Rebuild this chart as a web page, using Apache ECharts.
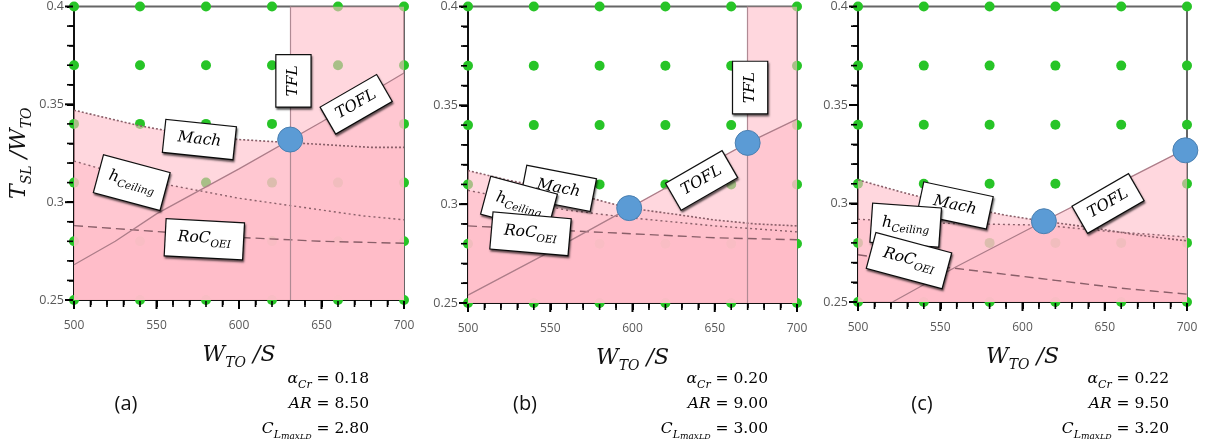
<!DOCTYPE html>
<html><head><meta charset="utf-8">
<script src="https://cdn.jsdelivr.net/npm/echarts@6/dist/echarts.min.js"></script>
<style>html,body{margin:0;padding:0;background:#fff}#c{width:1210px;height:440px;background:#fff}</style>
</head><body><div id="c"></div>
<script>
// ---- data ----
const gridX = [500, 540, 580, 620, 660, 700];
const gridY = [0.25, 0.28, 0.31, 0.34, 0.37, 0.40];

const xMajorTicks = [500, 550, 600, 650, 700];
const xMinorTicks = [510,520,530,540,560,570,580,590,610,620,630,640,660,670,680,690];
const yMajorTicks = [0.25, 0.30, 0.35, 0.40];
const yMinorTicks = [0.26,0.27,0.28,0.29,0.31,0.32,0.33,0.34,0.36,0.37,0.38,0.39];

const machA = [[500,0.347],[520,0.343],[540,0.339],[560,0.336],[580,0.334],[600,0.332],[620,0.331],[640,0.330],[660,0.329],[680,0.328],[700,0.328]];
const ceilA = [[500,0.321],[525,0.315],[550,0.310],[575,0.306],[600,0.302],[625,0.299],[650,0.296],[675,0.293],[700,0.291]];
const rocA  = [[500,0.288],[550,0.285],[600,0.282],[650,0.280],[700,0.279]];
const tofA  = [[500,0.268],[525,0.280],[550,0.294],[600,0.317],[650,0.341],[700,0.366]];
const tflA  = 631;
const optA  = [[631,0.332]];

const machB = [[500,0.317],[525,0.312],[550,0.308],[575,0.303],[598,0.298],[625,0.295],[650,0.292],[675,0.290],[700,0.289]];
const ceilB = [[500,0.307],[530,0.302],[560,0.297],[600,0.293],[650,0.289],[700,0.286]];
const rocB  = [[500,0.289],[550,0.287],[600,0.285],[650,0.283],[700,0.282]];
const tofB  = [[500,0.254],[550,0.276],[598,0.298],[635,0.315],[670,0.331],[700,0.343]];
const tflB  = 670;
const optB  = [[598,0.298],[670,0.331]];

const machC = [[500,0.312],[530,0.305],[560,0.299],[590,0.294],[613,0.291],[640,0.288],[670,0.284],[700,0.281]];
const ceilC = [[500,0.292],[550,0.290],[613,0.289],[650,0.286],[700,0.283]];
const rocC  = [[500,0.274],[540,0.269],[580,0.265],[620,0.261],[660,0.257],[700,0.254]];
const tofC  = [[521,0.250],[560,0.268],[613,0.291],[660,0.311],[700,0.328]];
const optC  = [[613,0.291],[699,0.327]];

const panelTags = ['(a)', '(b)', '(c)'];
const alphaCr = ['0.18', '0.20', '0.22'];
const aspectR = ['8.50', '9.00', '9.50'];
const clmaxLD = ['2.80', '3.00', '3.20'];

// annotation anchors (data space): [x, y]
const labA = {roc:[579,0.281], ceil:[535,0.310], mach:[576,0.332], tofl:[671,0.350], tfl:[633,0.362]};
const labB = {roc:[538,0.285], ceil:[531,0.300], mach:[555,0.308], tofl:[642,0.312], tfl:[671.5,0.359]};
const labC = {roc:[531,0.271], ceil:[529,0.289], mach:[559,0.299], tofl:[652,0.300]};

// ---- styling / building ----
const PINK = 'rgba(255,188,200,0.6)';
const SERIF = 'DejaVu Serif';
const grids = [
  {left:74, top:3, width:330, height:297},
  {left:468, top:5, width:329, height:298},
  {left:858, top:4, width:329, height:298}
];
const richLab = {
  m:{fontFamily:SERIF, fontStyle:'italic', fontSize:15.5, color:'#000', lineHeight:22},
  s:{fontFamily:SERIF, fontStyle:'italic', fontSize:10.5, color:'#000', lineHeight:10, verticalAlign:'bottom'}
};
const TXT = {
  mach:'{m|Mach}', tofl:'{m|TOFL}', tfl:'{m|TFL}',
  ceil:'{m|h}{s|Ceiling}', roc:'{m|RoC}{s|OEI}'
};
const ROT = [
  {roc:-3, ceil:-15, mach:-6, tofl:30, tfl:90},
  {roc:-5, ceil:-15, mach:-11, tofl:30, tfl:90},
  {roc:-15, ceil:-4, mach:-12, tofl:30}
];
const PAD = {mach:[5,13], tofl:[4,10], tfl:[6,10], ceil:[7,10,9,10], roc:[6,12,8,12]};

function constraint(gi, data, lineStyle){
  return {type:'line', xAxisIndex:gi, yAxisIndex:gi, data, showSymbol:false, symbol:'none',
    lineStyle, areaStyle:{color:PINK, origin:'start', opacity:1}, silent:true, animation:false};
}
const dotData = [];
gridX.forEach(x => gridY.forEach(y => dotData.push([x, y])));

function tickSeries(gi, data, size, offset){
  return {type:'scatter', xAxisIndex:gi, yAxisIndex:gi, data, symbol:'rect', symbolSize:size, symbolOffset:offset,
    clip:false, z:10, silent:true, animation:false, itemStyle:{color:'#000', opacity:1}};
}

function panelSeries(gi, mach, ceil, roc, tof, tfl, opt, lab){
  const s = [];
  s.push({type:'scatter', xAxisIndex:gi, yAxisIndex:gi, data:dotData, symbolSize:10, clip:true,
    itemStyle:{color:'#27c427', opacity:1}, silent:true, animation:false});
  s.push(constraint(gi, mach, {color:'#8a5f69', width:1.6, type:[2,2]}));
  s.push(constraint(gi, ceil, {color:'#8a5f69', width:1.4, type:[2,3]}));
  s.push(constraint(gi, roc,  {color:'#8a5f69', width:1.4, type:[9,5]}));
  if (tfl !== null) {
    s.push({type:'line', xAxisIndex:gi, yAxisIndex:gi, data:[[tfl,0.4],[700,0.4]], showSymbol:false, symbol:'none',
      lineStyle:{width:0}, areaStyle:{color:PINK, origin:'start', opacity:1}, silent:true, animation:false,
      markLine:{silent:true, symbol:'none', label:{show:false}, animation:false,
        lineStyle:{color:'#b08a94', width:1.2, type:'solid'}, data:[{xAxis:tfl}]}});
  }
  s.push(constraint(gi, tof, {color:'#ad7d89', width:1.3, type:'solid'}));
  const keys = ['mach','ceil','roc','tofl','tfl'].filter(k => lab[k]);
  s.push({type:'scatter', xAxisIndex:gi, yAxisIndex:gi, symbolSize:1, itemStyle:{color:'transparent', opacity:1},
    silent:true, animation:false, z:5, clip:false,
    data: keys.map(k => ({value:lab[k], label:{rotate:ROT[gi][k], formatter:TXT[k], padding:PAD[k]}})),
    label:{show:true, opacity:1, position:'inside', backgroundColor:'#fff', borderColor:'#111', borderWidth:1.2,
      shadowColor:'rgba(0,0,0,0.5)', shadowBlur:2, shadowOffsetX:1, shadowOffsetY:2, rich:richLab}});
  s.push({type:'scatter', xAxisIndex:gi, yAxisIndex:gi, data:opt, symbolSize:25, clip:false, z:8,
    itemStyle:{color:'#5b9bd5', borderColor:'#4a7fb0', borderWidth:1, opacity:1}, silent:true, animation:false});
  // axis ticks (outward) placed at the axis values
  s.push(tickSeries(gi, xMajorTicks.map(v => [v, yMajorTicks[0]]), [2, 8], [0, 5]));
  s.push(tickSeries(gi, xMinorTicks.map(v => [v, yMajorTicks[0]]), [1.6, 6], [0, 4]));
  s.push(tickSeries(gi, yMajorTicks.map(v => [xMajorTicks[0], v]), [8, 2], [-5, 0]));
  s.push(tickSeries(gi, yMinorTicks.map(v => [xMajorTicks[0], v]), [6, 1.6], [-4, 0]));
  return s;
}

const nameRich = {
  i:{fontFamily:SERIF, fontStyle:'italic', fontSize:22, color:'#111', lineHeight:30},
  s:{fontFamily:SERIF, fontStyle:'italic', fontSize:14, color:'#111', lineHeight:14, verticalAlign:'bottom'}
};
function tickCfg(){ return {show:true, length:7, lineStyle:{color:'#000', width:2}}; }
function minorCfg(){ return {show:true, splitNumber:5, length:5, lineStyle:{color:'#000', width:1.5}}; }
const xAxes = grids.map((g, i) => ({
  type:'value', gridIndex:i, min:500, max:700, interval:50,
  name:'{i|W}{s|TO}{i| /S}', nameLocation:'middle', nameGap:40, nameTextStyle:{rich:nameRich},
  axisLine:{show:true, lineStyle:{color:'#111', width:2}},
  axisTick:tickCfg(), minorTick:minorCfg(),
  splitLine:{show:false},
  axisLabel:{color:'#595959', fontSize:12, fontFamily:'Open Sans', margin:20}
}));
const yAxes = grids.map((g, i) => ({
  type:'value', gridIndex:i, min:0.25, max:0.4, interval:0.05,
  name: i === 0 ? '{i|T}{s|SL}{i| /W}{s|TO}' : '', nameLocation:'middle', nameGap:40, nameRotate:90,
  nameTextStyle:{rich:nameRich},
  axisLine:{show:true, lineStyle:{color:'#111', width:2}},
  axisTick:tickCfg(), minorTick:minorCfg(),
  splitLine:{show:false},
  axisLabel:{color:'#595959', fontSize:12.5, fontFamily:'Open Sans', margin:10}
}));

const series = [].concat(
  panelSeries(0, machA, ceilA, rocA, tofA, tflA, optA, labA),
  panelSeries(1, machB, ceilB, rocB, tofB, tflB, optB, labB),
  panelSeries(2, machC, ceilC, rocC, tofC, null, optC, labC)
);

const pRich = {
  n:{fontFamily:SERIF, fontSize:15.5, color:'#111', lineHeight:25, align:'right'},
  i:{fontFamily:SERIF, fontStyle:'italic', fontSize:15.5, color:'#111', lineHeight:25, align:'right'},
  s1:{fontFamily:SERIF, fontStyle:'italic', fontSize:11, color:'#111', lineHeight:14, verticalAlign:'bottom', align:'right'},
  s2:{fontFamily:SERIF, fontStyle:'italic', fontSize:9, color:'#111', lineHeight:9, verticalAlign:'bottom', align:'right'},
  s3:{fontFamily:SERIF, fontStyle:'italic', fontSize:8, color:'#111', lineHeight:4, verticalAlign:'bottom', align:'right'}
};
const textRight = [369, 768, 1169];
const tagX = [126, 525, 922];
const graphic = [];
for (let i = 0; i < 3; i++) {
  graphic.push({type:'text', x:tagX[i], y:404, silent:true,
    style:{text:panelTags[i], font:'20px "Open Sans"', fill:'#111', align:'center', verticalAlign:'middle'}});
  graphic.push({type:'text', x:textRight[i], y:366, silent:true,
    style:{text:'{i|α}{s1|Cr}{n| = ' + alphaCr[i] + '}\n{i|AR}{n| = ' + aspectR[i] + '}\n{i|C}{s1|L}{s2|max}{s3|LD}{n| = ' + clmaxLD[i] + '}',
      rich:pRich, align:'right', verticalAlign:'top'}});
}

const chart = echarts.init(document.getElementById('c'));
chart.setOption({
  animation:false,
  grid: grids.map(g => Object.assign({show:true, borderColor:'#666', borderWidth:2}, g)),
  xAxis: xAxes, yAxis: yAxes, series, graphic
});
</script></body></html>
